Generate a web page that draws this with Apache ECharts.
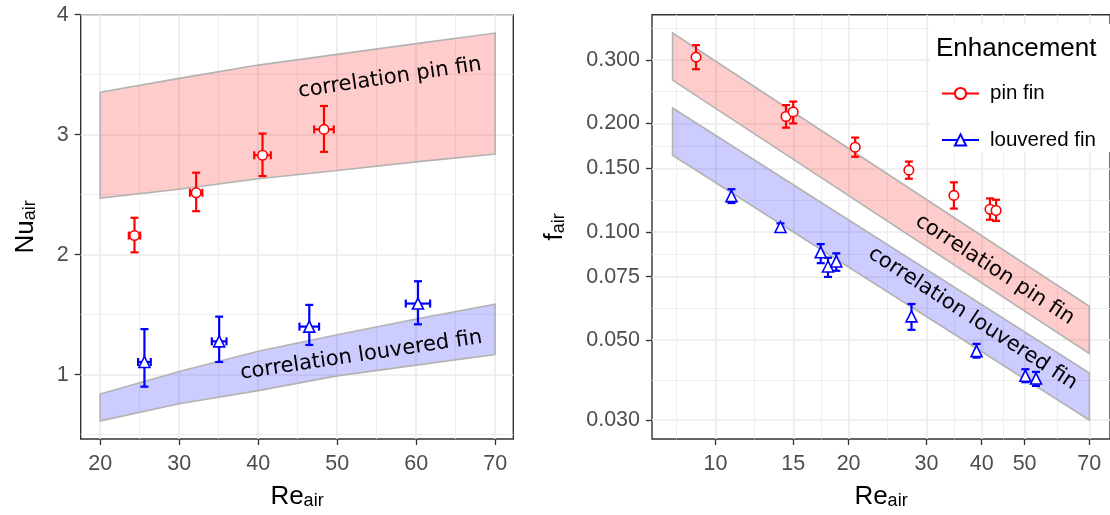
<!DOCTYPE html>
<html>
<head>
<meta charset="utf-8">
<title>Nu and f vs Re</title>
<script src="https://cdn.jsdelivr.net/npm/echarts@6/dist/echarts.min.js"></script>
<style>
html, body { margin: 0; padding: 0; background: #fff; }
#main { width: 1110px; height: 515px; }
</style>
</head>
<body>
<div id="main"></div>
<script>
// ---- left panel: Nu_air vs Re_air ----
var nuBandRe = [20, 30, 40, 50, 60, 70];
var nuPinUpper = [3.354, 3.469, 3.58, 3.669, 3.759, 3.847];
var nuPinLower = [2.471, 2.545, 2.633, 2.701, 2.773, 2.839];
var nuLouvUpper = [0.839, 1.025, 1.195, 1.332, 1.464, 1.587];
var nuLouvLower = [0.614, 0.757, 0.866, 0.989, 1.079, 1.168];

var nuPinRe = [24.34, 32.15, 40.55, 48.33];
var nuPinReErr = [0.72, 0.78, 1.05, 1.24];
var nuPin = [2.159, 2.516, 2.828, 3.044];
var nuPinLo = [2.019, 2.362, 2.655, 2.857];
var nuPinHi = [2.307, 2.683, 3.009, 3.239];

var nuLouvRe = [25.6, 35.06, 46.47, 60.23];
var nuLouvReErr = [0.8, 0.93, 1.24, 1.54];
var nuLouv = [1.105, 1.277, 1.40, 1.592];
var nuLouvLo = [0.899, 1.105, 1.247, 1.419];
var nuLouvHi = [1.379, 1.483, 1.581, 1.778];

var nuReTicks = [20, 30, 40, 50, 60, 70];
var nuReMinor = [25, 35, 45, 55, 65];
var nuTicks = [1, 2, 3, 4];
var nuMinor = [0.5, 1.5, 2.5, 3.5];

// ---- right panel: f_air vs Re_air (log-log) ----
var fBandRe = [8, 70];
var fPinUpper = [0.3566, 0.0621];
var fPinLower = [0.2639, 0.0459];
var fLouvUpper = [0.2208, 0.0405];
var fLouvLower = [0.1631, 0.030];

var fPinRe = [9.04, 14.44, 14.99, 20.7, 27.37, 34.6, 41.75, 43.1];
var fPin = [0.3057, 0.209, 0.2153, 0.1718, 0.1483, 0.1262, 0.1155, 0.1146];
var fPinLo = [0.2829, 0.1946, 0.2, 0.1616, 0.1404, 0.116, 0.108, 0.1072];
var fPinHi = [0.330, 0.2249, 0.230, 0.1827, 0.1567, 0.1372, 0.1238, 0.1227];

var fLouvRe = [10.87, 14.03, 17.3, 17.97, 18.76, 27.75, 38.93, 50.2, 53.05];
var fLouv = [0.1256, 0.1031, 0.0877, 0.0801, 0.0827, 0.0582, 0.0466, 0.0398, 0.0391];
var fLouvLo = [0.1202, 0.1005, 0.0818, 0.0749, 0.0779, 0.0534, 0.0447, 0.0382, 0.0373];
var fLouvHi = [0.1313, 0.1055, 0.0924, 0.0847, 0.0871, 0.063, 0.0488, 0.0415, 0.0408];

var fReTicks = [10, 15, 20, 30, 40, 50, 70];
var fTicks = [0.03, 0.05, 0.075, 0.1, 0.15, 0.2, 0.3];

// annotations
var annoText = ['correlation pin fin', 'correlation louvered fin'];
var nuAnnoRe = [56.68, 53.04];
var nuAnnoNu = [3.472, 1.160];
var fAnnoRe = [42.79, 38.14];
var fAnnoF = [0.0784, 0.0574];

var RED = '#ff0000', BLUE = '#0000ff';
var FONT = 'Liberation Sans, Arial, sans-serif';
var lg = Math.log10;

// ggplot-like minor breaks for log axis: midpoints between majors
function logMinor(ticks) {
    var b = ticks.map(lg), out = [];
    out.push(b[0] - (b[1] - b[0]) / 2);
    for (var i = 0; i < b.length - 1; i++) out.push((b[i] + b[i + 1]) / 2);
    out.push(b[b.length - 1] + (b[b.length - 1] - b[b.length - 2]) / 2);
    return out;
}

function bandItem(xs, up, lo, fill, tx) {
    tx = tx || function (v) { return v; };
    return function (params, api) {
        if (params.dataIndex !== 0) return null;
        var pts = [];
        for (var i = 0; i < xs.length; i++) pts.push(api.coord([tx(xs[i]), tx(up[i])]));
        for (var j = xs.length - 1; j >= 0; j--) pts.push(api.coord([tx(xs[j]), tx(lo[j])]));
        return {
            type: 'polygon',
            shape: { points: pts },
            style: { fill: fill, stroke: '#b3b3b3', lineWidth: 1.6 }
        };
    };
}

function errItem(color) {
    return function (params, api) {
        var cap = 4;
        var p = api.coord([api.value(0), api.value(1)]);
        var lo = api.coord([api.value(0), api.value(2)]);
        var hi = api.coord([api.value(0), api.value(3)]);
        var st = { stroke: color, lineWidth: 2.2 };
        var ch = [
            { type: 'line', shape: { x1: p[0], y1: lo[1], x2: p[0], y2: hi[1] }, style: st },
            { type: 'line', shape: { x1: p[0] - cap, y1: lo[1], x2: p[0] + cap, y2: lo[1] }, style: st },
            { type: 'line', shape: { x1: p[0] - cap, y1: hi[1], x2: p[0] + cap, y2: hi[1] }, style: st }
        ];
        if (api.value(4) != null && !isNaN(api.value(4))) {
            var l = api.coord([api.value(4), api.value(1)]);
            var r = api.coord([api.value(5), api.value(1)]);
            ch.push({ type: 'line', shape: { x1: l[0], y1: p[1], x2: r[0], y2: p[1] }, style: st });
            ch.push({ type: 'line', shape: { x1: l[0], y1: p[1] - cap, x2: l[0], y2: p[1] + cap }, style: st });
            ch.push({ type: 'line', shape: { x1: r[0], y1: p[1] - cap, x2: r[0], y2: p[1] + cap }, style: st });
        }
        return { type: 'group', children: ch };
    };
}

function textItem(angle) {
    return function (params, api) {
        var p = api.coord([api.value(0), api.value(1)]);
        return {
            type: 'text',
            x: p[0], y: p[1],
            rotation: angle * Math.PI / 180,
            style: {
                text: annoText[params.dataIndex],
                fontSize: 21, fontFamily: 'DejaVu Sans',
                fill: '#000', align: 'center', verticalAlign: 'middle'
            }
        };
    };
}

var nameStyle = {
    color: '#000', fontFamily: FONT,
    rich: {
        m: { fontSize: 26, fontFamily: FONT, color: '#000' },
        s: { fontSize: 18, fontFamily: FONT, color: '#000', verticalAlign: 'bottom', lineHeight: 11 }
    }
};
var labelStyle = { fontSize: 21.5, color: '#4d4d4d', fontFamily: FONT };
var tickStyle = { length: 6, lineStyle: { color: '#333', width: 1.3 } };
var majorGrid = { show: true, lineStyle: { color: '#ebebeb', width: 1.6 } };
var minorGrid = { show: true, lineStyle: { color: '#ededed', width: 0.9 } };

function majorAxis(grid, min, max, ticks, fmt, margin, extra) {
    var a = {
        gridIndex: grid, type: 'value', min: min, max: max,
        axisLine: { show: false },
        axisTick: Object.assign({ customValues: ticks }, tickStyle),
        axisLabel: Object.assign({ customValues: ticks, margin: margin, formatter: fmt }, labelStyle),
        splitLine: majorGrid
    };
    return Object.assign(a, extra);
}
function minorAxis(grid, min, max, ticks) {
    return {
        gridIndex: grid, type: 'value', min: min, max: max,
        axisLine: { show: false },
        axisTick: { show: false, customValues: ticks },
        axisLabel: { show: false, customValues: ticks },
        splitLine: minorGrid
    };
}

var fxMin = 0.8566, fxMax = 1.892, fyMin = -1.5758, fyMax = -0.3969;

var option = {
    animation: false,
    backgroundColor: '#fff',
    grid: [
        { left: 80.7, top: 14.7, width: 432.6, height: 430.3, show: true, borderColor: '#333', borderWidth: 1.4 },
        { left: 652, top: 14.7, width: 467, height: 430.3, show: true, borderColor: '#333', borderWidth: 1.4 }
    ],
    xAxis: [
        majorAxis(0, 17.53, 72.3, nuReTicks, null, 14,
            { name: '{m|Re}{s|air}', nameLocation: 'middle', nameGap: 45, nameTextStyle: nameStyle }),
        minorAxis(0, 17.53, 72.3, nuReMinor),
        majorAxis(1, fxMin, fxMax, fReTicks.map(lg), function (v) { return String(Math.round(Math.pow(10, v))); }, 14,
            { name: '{m|Re}{s|air}', nameLocation: 'middle', nameGap: 45, nameTextStyle: nameStyle }),
        minorAxis(1, fxMin, fxMax, logMinor(fReTicks))
    ],
    yAxis: [
        majorAxis(0, 0.463, 4, nuTicks, null, 12,
            { name: '{m|Nu}{s|air}', nameLocation: 'middle', nameGap: 42, nameTextStyle: nameStyle }),
        minorAxis(0, 0.463, 4, nuMinor),
        majorAxis(1, fyMin, fyMax, fTicks.map(lg), function (v) { return Math.pow(10, v).toFixed(3); }, 12,
            { name: '{m|f}{s|air}', nameLocation: 'middle', nameGap: 84, nameTextStyle: nameStyle }),
        minorAxis(1, fyMin, fyMax, logMinor(fTicks))
    ],
    title: {
        text: 'Enhancement', left: 936, top: 36, padding: 0, z: 10,
        textStyle: { fontSize: 26, fontWeight: 'normal', color: '#000', fontFamily: FONT }
    },
    legend: {
        data: ['pin fin', 'louvered fin'],
        orient: 'vertical', left: 941, top: 83, padding: 0,
        itemWidth: 37, itemHeight: 14, itemGap: 25.5,
        selectedMode: false, z: 10,
        textStyle: { fontSize: 20.5, color: '#000', fontFamily: FONT, padding: [0, 0, 0, 6] }
    },
    graphic: [
        { type: 'rect', left: 930, top: 24, z: 1, silent: true,
          shape: { width: 190, height: 128 }, style: { fill: '#fff' } }
    ],
    series: [
        // left panel
        { type: 'custom', xAxisIndex: 0, yAxisIndex: 0, renderItem: bandItem(nuBandRe, nuPinUpper, nuPinLower, 'rgba(255,0,0,0.2)'),
          data: nuBandRe.map(function (x, i) { return [x, nuPinUpper[i]]; }), silent: true },
        { type: 'custom', xAxisIndex: 0, yAxisIndex: 0, renderItem: bandItem(nuBandRe, nuLouvUpper, nuLouvLower, 'rgba(0,0,255,0.2)'),
          data: nuBandRe.map(function (x, i) { return [x, nuLouvUpper[i]]; }), silent: true },
        { type: 'custom', xAxisIndex: 0, yAxisIndex: 0, renderItem: errItem(RED), silent: true,
          data: nuPinRe.map(function (x, i) { return [x, nuPin[i], nuPinLo[i], nuPinHi[i], x - nuPinReErr[i], x + nuPinReErr[i]]; }) },
        { type: 'custom', xAxisIndex: 0, yAxisIndex: 0, renderItem: errItem(BLUE), silent: true,
          data: nuLouvRe.map(function (x, i) { return [x, nuLouv[i], nuLouvLo[i], nuLouvHi[i], x - nuLouvReErr[i], x + nuLouvReErr[i]]; }) },
        { type: 'scatter', name: 'pin fin points', xAxisIndex: 0, yAxisIndex: 0, symbol: 'circle', symbolSize: 9.5,
          itemStyle: { color: '#fff', borderColor: RED, borderWidth: 1.6, opacity: 1 },
          data: nuPinRe.map(function (x, i) { return [x, nuPin[i]]; }) },
        { type: 'scatter', name: 'louvered fin points', xAxisIndex: 0, yAxisIndex: 0, symbol: 'triangle', symbolSize: 11,
          itemStyle: { color: '#fff', borderColor: BLUE, borderWidth: 1.6, opacity: 1 },
          data: nuLouvRe.map(function (x, i) { return [x, nuLouv[i]]; }) },
        { type: 'custom', xAxisIndex: 0, yAxisIndex: 0, renderItem: textItem(8.5), silent: true,
          data: nuAnnoRe.map(function (x, i) { return [x, nuAnnoNu[i]]; }) },

        // right panel (log10 of values on linear axes)
        { type: 'custom', xAxisIndex: 2, yAxisIndex: 2, renderItem: bandItem(fBandRe, fPinUpper, fPinLower, 'rgba(255,0,0,0.2)', lg),
          data: fBandRe.map(function (x, i) { return [lg(x), lg(fPinUpper[i])]; }), silent: true },
        { type: 'custom', xAxisIndex: 2, yAxisIndex: 2, renderItem: bandItem(fBandRe, fLouvUpper, fLouvLower, 'rgba(0,0,255,0.2)', lg),
          data: fBandRe.map(function (x, i) { return [lg(x), lg(fLouvUpper[i])]; }), silent: true },
        { type: 'custom', xAxisIndex: 2, yAxisIndex: 2, renderItem: errItem(RED), silent: true,
          data: fPinRe.map(function (x, i) { return [lg(x), lg(fPin[i]), lg(fPinLo[i]), lg(fPinHi[i])]; }) },
        { type: 'custom', xAxisIndex: 2, yAxisIndex: 2, renderItem: errItem(BLUE), silent: true,
          data: fLouvRe.map(function (x, i) { return [lg(x), lg(fLouv[i]), lg(fLouvLo[i]), lg(fLouvHi[i])]; }) },
        { type: 'scatter', name: 'pin fin points', xAxisIndex: 2, yAxisIndex: 2, symbol: 'circle', symbolSize: 9.5,
          itemStyle: { color: '#fff', borderColor: RED, borderWidth: 1.6, opacity: 1 },
          data: fPinRe.map(function (x, i) { return [lg(x), lg(fPin[i])]; }) },
        { type: 'scatter', name: 'louvered fin points', xAxisIndex: 2, yAxisIndex: 2, symbol: 'triangle', symbolSize: 11,
          itemStyle: { color: '#fff', borderColor: BLUE, borderWidth: 1.6, opacity: 1 },
          data: fLouvRe.map(function (x, i) { return [lg(x), lg(fLouv[i])]; }) },
        { type: 'custom', xAxisIndex: 2, yAxisIndex: 2, renderItem: textItem(-33), silent: true,
          data: fAnnoRe.map(function (x, i) { return [lg(x), lg(fAnnoF[i])]; }) },

        // legend entries
        { type: 'line', name: 'pin fin', xAxisIndex: 2, yAxisIndex: 2, data: [], symbol: 'emptyCircle',
          color: RED, lineStyle: { color: RED, width: 2 }, itemStyle: { color: RED } },
        { type: 'line', name: 'louvered fin', xAxisIndex: 2, yAxisIndex: 2, data: [], symbol: 'emptyTriangle',
          color: BLUE, lineStyle: { color: BLUE, width: 2 }, itemStyle: { color: BLUE } }
    ]
};

var chart = echarts.init(document.getElementById('main'));
chart.setOption(option);
</script>
</body>
</html>
